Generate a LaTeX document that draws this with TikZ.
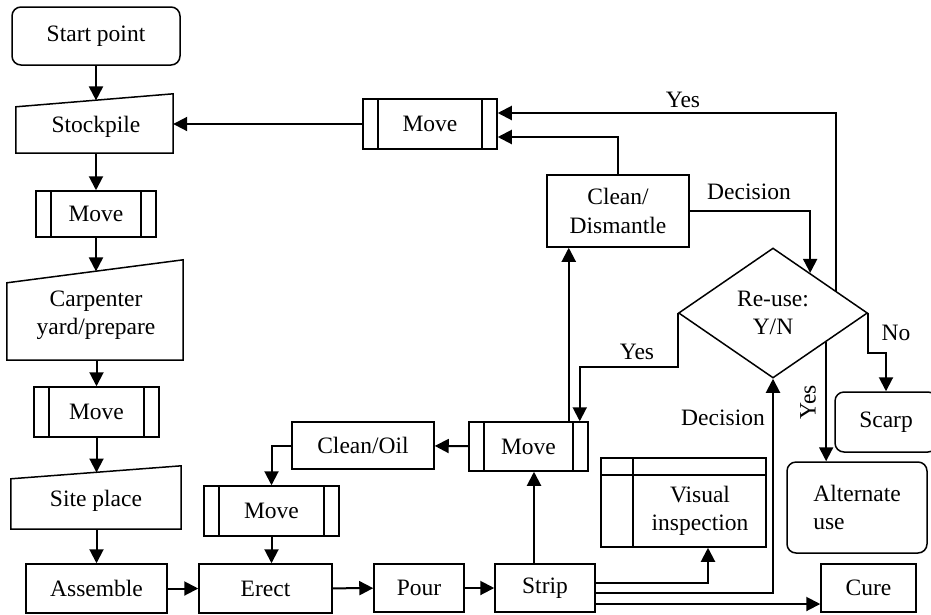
\documentclass[tikz,border=0pt]{standalone}
\usepackage{fontspec}
\setmainfont{Liberation Serif}
\usetikzlibrary{shapes.geometric,arrows.meta,calc}
\tikzset{
  every node/.style={font=\fontsize{23.5}{28.5}\selectfont, inner sep=0pt, align=center},
  proc/.style={draw, line width=1.5pt},
  rproc/.style={proc, rounded corners=9pt},
  ghost/.style={draw=none},
  outline/.style={line width=1.5pt, line join=miter},
  movebox/.style={proc, path picture={
      \draw[line width=1.5pt] ([xshift=15pt]path picture bounding box.north west) -- ([xshift=15pt]path picture bounding box.south west);
      \draw[line width=1.5pt] ([xshift=-15pt]path picture bounding box.north east) -- ([xshift=-15pt]path picture bounding box.south east);}},
  storebox/.style={proc, path picture={
      \draw[line width=1.5pt] ([yshift=-17pt]path picture bounding box.north west) -- ([yshift=-17pt]path picture bounding box.north east);
      \draw[line width=1.5pt] ([xshift=32pt]path picture bounding box.north west) -- ([xshift=32pt]path picture bounding box.south west);}},
  arr/.style={line width=2pt, -{Triangle[length=14pt,width=14pt]}},
  lbl/.style={}
}
\begin{document}
\begin{tikzpicture}[x=1pt,y=-1pt]
\useasboundingbox (0,0) rectangle (931,614);
% left column
\node[rproc, minimum width=168pt, minimum height=58pt] (start) at (96,36) {Start point};
\node[ghost, minimum width=157pt, minimum height=59pt] (stock) at (94.5,123.5) {};
\draw[outline] (stock.south west) -- (stock.south east) -- (stock.north east) -- ([yshift=-13pt]stock.north west) -- cycle;
\node (stocktxt) at (96,127) {Stockpile};
\node[movebox, minimum width=120pt, minimum height=46pt] (move1) at (96,214) {Move};
\node[ghost, minimum width=176pt, minimum height=100pt] (carp) at (95,310) {};
\draw[outline] (carp.south west) -- (carp.south east) -- (carp.north east) -- ([yshift=-23pt]carp.north west) -- cycle;
\node (carptxt) at (96,315) {Carpenter\\yard/prepare};
\node[movebox, minimum width=125pt, minimum height=50pt] (move2) at (96.5,412) {Move};
\node[ghost, minimum width=170pt, minimum height=63pt] (site) at (96,497.5) {};
\draw[outline] (site.south west) -- (site.south east) -- (site.north east) -- ([yshift=-13pt]site.north west) -- cycle;
\node (sitetxt) at (96,501) {Site place};
\node[proc, minimum width=141pt, minimum height=49pt] (assemble) at (96.5,588.5) {Assemble};
% bottom row
\node[proc, minimum width=133pt, minimum height=49pt] (erect) at (265.5,588.5) {Erect};
\node[proc, minimum width=90pt, minimum height=48pt] (pour) at (419,588) {Pour};
\node[proc, minimum width=100pt, minimum height=48pt] (strip) at (545,588) {Strip};
\node[proc, minimum width=95pt, minimum height=48pt] (cure) at (868.5,588) {Cure};
% middle
\node[movebox, minimum width=135pt, minimum height=50pt] (move3) at (271.5,511) {Move};
\node[proc, minimum width=142pt, minimum height=47pt] (cleanoil) at (363,445.5) {Clean/Oil};
\node[movebox, minimum width=119pt, minimum height=49pt] (move4) at (528.5,446.5) {Move};
\node[storebox, minimum width=165pt, minimum height=89pt] (visual) at (683.5,502.5) {};
\node (vistxt) at (700,511) {Visual\\inspection};
\node[rproc, minimum width=140pt, minimum height=91pt, align=left] (alt) at (857,507.5) {Alternate\\use};
\node[rproc, minimum width=102pt, minimum height=60pt] (scarp) at (886,422) {Scarp};
% upper right
\node[draw, diamond, line width=1.5pt, minimum width=189pt, minimum height=130pt, aspect=1.454] (dia) at (773,313) {};
\node (diatxt) at (773,313) {Re-use:\\Y/N};
\node[proc, minimum width=142pt, minimum height=72pt] (cleandis) at (618,211) {Clean/\\Dismantle};
\node[movebox, minimum width=134pt, minimum height=50pt] (movetop) at (430,124) {Move};
% coordinates on slanted / diamond edges
\coordinate (stockin) at (96,100.4);
\coordinate (carpin) at (96,271.4);
\coordinate (sitein) at (96.5,472.5);
\coordinate (d1) at ($(dia.north)!0.39!(dia.east)$);
\coordinate (d2) at ($(dia.north)!0.663!(dia.east)$);
\coordinate (d3) at ($(dia.south)!0.558!(dia.east)$);
% connectors
\draw[arr] (start) -- (stockin);
\draw[arr] (move1 |- stock.south) -- (move1.north);
\draw[arr] (move1) -- (carpin);
\draw[arr] (move2 |- carp.south) -- (move2.north);
\draw[arr] (move2) -- (sitein);
\draw[arr] (assemble |- site.south) -- (assemble.north);
\draw[arr] (assemble) -- (erect);
\draw[arr] (erect) -- (pour);
\draw[arr] (pour) -- (strip);
\draw[arr] ([xshift=-11pt]strip.north) -- ([xshift=-11pt]strip.north |- move4.south);
\draw[arr] (move4) -- (cleanoil);
\draw[arr] (cleanoil.west) -| (move3.north);
\draw[arr] (move3.south) -- (move3.south |- erect.north);
\draw[arr] ([xshift=-20pt]move4.north east) -- ([xshift=-20pt]move4.north east |- cleandis.south);
\draw[arr] (cleandis.north) |- ([yshift=-13pt]movetop.east);
\draw[arr] (movetop.west) -- (movetop.west -| stock.east);
\draw[arr] (cleandis.east) -| (d1);
\draw[arr] (d2) |- ([yshift=11pt]movetop.east);
\draw[arr] (d3) -- (d3 |- alt.north);
\draw[arr] (dia.east) -- ++(0,40) -| (scarp.north);
\draw[arr] (dia.west) -- ++(0,54) -| ([xshift=-9pt]move4.north east);
\draw[arr] ([yshift=5pt]strip.east) -| ([xshift=24.5pt]visual.south);
\draw[arr] ([yshift=-5pt]strip.east) -| (dia.south);
\draw[arr] ([yshift=-16pt]strip.east) -- ([yshift=-16pt]strip.east -| cure.west);
% labels
\node[lbl] (lyes1) at (683,100) {Yes};
\node[lbl] (ldec1) at (749,192) {Decision};
\node[lbl] (lno) at (896,333) {No};
\node[lbl] (lyes2) at (637,352) {Yes};
\node[lbl, rotate=90] (lyes3) at (808,402) {Yes};
\node[lbl] (ldec2) at (723,418) {Decision};
\end{tikzpicture}
\end{document}
